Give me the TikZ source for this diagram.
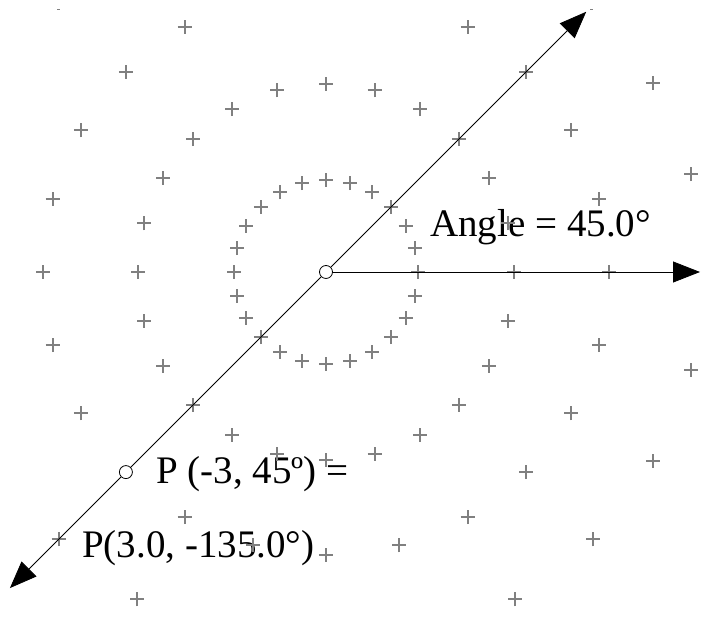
\documentclass[tikz,border=0pt]{standalone}
\usepackage{fontspec}
\setmainfont{Liberation Serif}
\usetikzlibrary{arrows.meta}
\begin{document}
\begin{tikzpicture}[x=1pt,y=1pt,
  plusmark/.style={draw=gray, line width=2pt},
  axisline/.style={line width=0.8pt, draw=black},
  axisarrow/.style={axisline, -{Triangle[length=27pt,width=21pt]}},
  dot/.style={circle, draw=black, fill=white, line width=0.8pt, minimum size=13pt, inner sep=0pt},
  lbl/.style={anchor=base west, inner sep=0pt, font=\fontsize{39}{47}\selectfont}]
\useasboundingbox (0,0) rectangle (701,620);
\clip (0,0) rectangle (701,620);
\coordinate (C) at (326,348);
% labels
\node[lbl] (angle) at (430,383) {Angle = 45.0°};
\node[lbl] (p1) at (156,136) {P (-3, 45º) =};
\node[lbl] (p2) at (82,62) {P(3.0, -135.0°)};
% polar grid of plus marks
\foreach \r in {92,188,283,378}{
  \foreach \a in {0,15,...,345}{
    \pgfmathsetmacro{\px}{326+\r*cos(\a)}
    \pgfmathsetmacro{\py}{348+\r*sin(\a)}
    \pgfmathtruncatemacro{\ok}{(\px>5)&&(\px<696)&&(\py>8)&&(\py<612)}
    \ifnum\ok=1
      \draw[plusmark] (\px-7,\py) -- (\px+7,\py) (\px,\py-7) -- (\px,\py+7);
    \fi
  }
}
\draw[draw=gray, line width=1pt] (57,610) -- (60,610);
\draw[draw=gray, line width=1pt] (590,610) -- (593,610);
% axes
\node[dot] (O) at (C) {};
\node[dot] (P) at ([shift={(225:283)}]C) {};
\coordinate (NE) at ([shift={(45:368)}]C);
\coordinate (SW) at ([shift={(225:447)}]C);
\coordinate (E) at (700,348);
\draw[axisarrow] (O) -- (NE);
\draw[axisarrow] (O) -- (E);
\draw[axisline] (O) -- (P);
\draw[axisarrow] (P) -- (SW);
\end{tikzpicture}
\end{document}
